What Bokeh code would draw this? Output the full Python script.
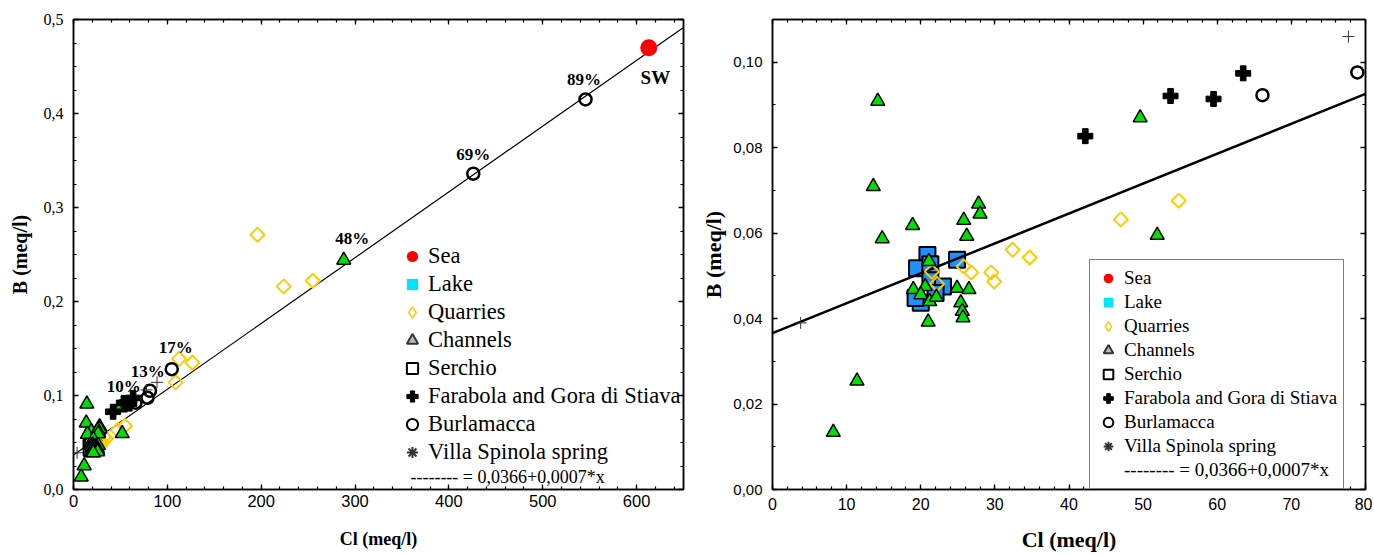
import numpy as np
from bokeh.plotting import figure
from bokeh.layouts import row
from bokeh.models import Range1d, LinearAxis, FixedTicker, Legend, LegendItem, Label
from bokeh.core.properties import value
from bokeh.embed import file_html
from bokeh.resources import INLINE

# ---------------- data (Cl meq/l, B meq/l) ----------------
sea_cl = [613.0]
sea_b = [0.470]

lake_cl = []
lake_b = []

quarry_cl = [21.5, 22.2, 25.8, 26.8, 29.5, 29.9, 32.4, 34.7, 47.0, 54.8, 109.0, 112.5, 126.7, 196.0, 224.0, 255.0]
quarry_b = [0.0510, 0.0481, 0.0522, 0.0508, 0.0508, 0.0487, 0.0561, 0.0543, 0.0632, 0.0676, 0.114, 0.139, 0.135, 0.271, 0.216, 0.222]

channel_cl = [14.2, 13.6, 18.9, 14.8, 11.4, 8.2, 49.6, 51.9, 27.8, 28.0, 25.8, 26.2, 21.1, 19.0, 20.6,
              20.0, 21.2, 22.1, 24.9, 26.5, 25.4, 25.6, 25.7, 21.0, 288.0]
channel_b = [0.0909, 0.0709, 0.0618, 0.0587, 0.0254, 0.0134, 0.0870, 0.0595, 0.0668, 0.0645, 0.0630, 0.0593, 0.0534, 0.0468, 0.0475,
             0.0456, 0.0440, 0.0450, 0.0471, 0.0468, 0.0437, 0.0417, 0.0402, 0.0392, 0.244]

serchio_cl = [20.9, 24.9, 19.5, 21.3, 23.0, 20.0, 19.3, 21.3, 22.0]
serchio_b = [0.0549, 0.0538, 0.0518, 0.0495, 0.0475, 0.0437, 0.0448, 0.0527, 0.0460]

farabola_cl = [42.2, 53.7, 59.5, 63.5]
farabola_b = [0.0827, 0.0921, 0.0914, 0.0974]

burlamacca_cl = [66.1, 78.9, 81.5, 104.7, 426.0, 545.6]
burlamacca_b = [0.0923, 0.0976, 0.105, 0.128, 0.336, 0.415]

villa_cl = [3.8, 77.7, 89.0]
villa_b = [0.039, 0.106, 0.114]

reg_intercept = 0.0366
reg_slope = 0.0007

pct_labels = ["89%", "69%", "48%", "17%", "13%", "10%"]
pct_cl = [544.0, 426.0, 297.0, 109.0, 79.0, 53.6]
pct_b = [0.436, 0.356, 0.267, 0.1515, 0.126, 0.110]

sw_label = ["SW"]
sw_cl = [620.0]
sw_b = [0.4386]

left_x_ticks = [0, 100, 200, 300, 400, 500, 600]
left_x_labels = ["0", "100", "200", "300", "400", "500", "600"]
left_y_ticks = [0.0, 0.1, 0.2, 0.3, 0.4, 0.5]
left_y_labels = ["0,0", "0,1", "0,2", "0,3", "0,4", "0,5"]

right_x_ticks = [0, 10, 20, 30, 40, 50, 60, 70, 80]
right_x_labels = ["0", "10", "20", "30", "40", "50", "60", "70", "80"]
right_y_ticks = [0.0, 0.02, 0.04, 0.06, 0.08, 0.10]
right_y_labels = ["0,00", "0,02", "0,04", "0,06", "0,08", "0,10"]

legend_names = ["Sea", "Lake", "Quarries", "Channels", "Serchio",
                "Farabola and Gora di Stiava", "Burlamacca", "Villa Spinola spring"]

formula_text = "-------- = " + str(reg_intercept).replace(".", ",") + "+" + str(reg_slope).replace(".", ",") + "*x"

# ---------------- styling ----------------
SERIF = "Liberation Serif"
SANS = "Liberation Sans"
NARROW = "'Liberation Sans Narrow', 'Liberation Sans'"
SEA_C = "#ff0000"
LAKE_C = "#00e5ff"
QUARRY_C = "#ffcc00"
CHANNEL_C = "#00e000"
SERCHIO_C = "#1e90ff"


def style_axis(ax, ticks, labels, minor, font, size, show):
    ax.ticker = FixedTicker(ticks=ticks, minor_ticks=minor)
    ax.major_label_overrides = {float(t): l for t, l in zip(ticks, labels)}
    ax.major_tick_in = 5
    ax.major_tick_out = 0
    ax.minor_tick_in = 3
    ax.minor_tick_out = 0
    ax.axis_line_width = 1.5
    ax.major_tick_line_width = 1.3
    ax.minor_tick_line_width = 1.2
    ax.axis_line_color = "black"
    ax.major_tick_line_color = "black"
    ax.minor_tick_line_color = "black"
    if show:
        ax.major_label_text_font = font
        ax.major_label_text_font_size = size
        ax.major_label_text_color = "black"
    else:
        ax.major_label_text_font_size = "0px"
        ax.major_label_text_color = None
        ax.major_label_standoff = 0
        ax.axis_label = None


def make_fig(width, height, mb, xr, yr, xt, xl, xminor, yt, yl, yminor,
             xfont, xsize, yfont, ysize, lab_size_x, lab_size_y, xstand, ystand, xlab_stand, ylab_stand):
    p = figure(width=width, height=height, x_range=Range1d(*xr), y_range=Range1d(*yr),
               output_backend="svg", toolbar_location=None,
               min_border_left=mb[0], min_border_right=mb[1], min_border_top=mb[2], min_border_bottom=mb[3],
               outline_line_color="black", outline_line_width=1.5,
               background_fill_color="white", border_fill_color="white")
    p.grid.visible = False
    bottom = p.below[0]
    left = p.left[0]
    bottom.axis_label = "Cl (meq/l)"
    left.axis_label = "B (meq/l)"
    top = LinearAxis()
    rgt = LinearAxis()
    p.add_layout(top, "above")
    p.add_layout(rgt, "right")
    style_axis(bottom, xt, xl, xminor, xfont, xsize, True)
    style_axis(left, yt, yl, yminor, yfont, ysize, True)
    style_axis(top, xt, xl, xminor, xfont, xsize, False)
    style_axis(rgt, yt, yl, yminor, yfont, ysize, False)
    for ax, s, st, ls in ((bottom, lab_size_x, xstand, xlab_stand), (left, lab_size_y, ystand, ylab_stand)):
        ax.axis_label_text_font = SERIF
        ax.axis_label_text_font_style = "bold"
        ax.axis_label_text_font_size = s
        ax.axis_label_text_color = "black"
        ax.major_label_standoff = st
        ax.axis_label_standoff = ls
    return p


def draw_data(p, xmax, lw_line):
    p.scatter(serchio_cl, serchio_b, marker="square", size=16, fill_color=SERCHIO_C,
              line_color="black", line_width=2)
    lx = np.array([0.0, xmax])
    p.line(lx, reg_intercept + reg_slope * lx, line_color="black", line_width=lw_line)
    p.scatter(quarry_cl, quarry_b, marker="square", angle=np.pi / 4, size=10, fill_color=None,
              line_color=QUARRY_C, line_width=2)
    p.scatter(channel_cl, channel_b, marker="triangle", size=14, fill_color=CHANNEL_C,
              line_color="black", line_width=1.5)
    p.scatter(farabola_cl, farabola_b, marker="plus", size=15, fill_color="black", line_color="black")
    p.scatter(burlamacca_cl, burlamacca_b, marker="circle", size=12, fill_color=None,
              line_color="black", line_width=2.5)
    p.scatter(villa_cl, villa_b, marker="cross", size=12, line_color="#333333", line_width=1)
    p.scatter(sea_cl, sea_b, marker="circle", size=17, fill_color=SEA_C, line_color=None)
    p.scatter(lake_cl, lake_b, marker="square", size=9, fill_color=LAKE_C, line_color=None)


def add_legend(p, loc, g, font_size, padding, standoff, boxed, formula_row):
    specs = [
        dict(marker="circle", fill_color=SEA_C, line_color=None),
        dict(marker="square", fill_color=LAKE_C, line_color=None),
        dict(marker="diamond", fill_color=None, line_color=QUARRY_C, line_width=1.5),
        dict(marker="triangle", fill_color="#bbbbbb", line_color="#333333", line_width=2),
        dict(marker="square", fill_color=None, line_color="black", line_width=2),
        dict(marker="plus", fill_color="black", line_color="black"),
        dict(marker="circle", fill_color=None, line_color="black", line_width=2),
        dict(marker="asterisk", line_color="#333333", line_width=2),
    ]
    items = []
    for name, kw in zip(legend_names, specs):
        r = p.scatter(x=[np.nan], y=[np.nan], **kw)
        items.append(LegendItem(label=name, renderers=[r]))
    if formula_row:
        r = p.scatter(x=[np.nan], y=[np.nan], marker="circle", fill_alpha=0, line_alpha=0)
        items.append(LegendItem(label=formula_text, renderers=[r]))
    leg = Legend(items=items, location=loc, orientation="vertical",
                 glyph_width=g, glyph_height=g, label_height=g, label_standoff=standoff,
                 padding=padding, spacing=0, margin=0,
                 label_text_font=SERIF, label_text_font_size=font_size, label_text_color="black")
    if boxed:
        leg.border_line_color = "black"
        leg.border_line_width = 1.5
        leg.background_fill_color = "white"
        leg.background_fill_alpha = 1.0
    else:
        leg.border_line_alpha = 0
        leg.background_fill_alpha = 0
    p.add_layout(leg)


# ---------------- left figure ----------------
p1 = make_fig(696, 555, (73, 13, 19, 64), (0, 650), (0, 0.5),
              left_x_ticks, left_x_labels, list(np.arange(0, 650.1, 20)),
              left_y_ticks, left_y_labels, list(np.arange(0, 0.5001, 0.025)),
              NARROW, "16.5px", SERIF, "16px", "18px", "20px", 5, 10, 19, 10)
draw_data(p1, 650.0, 1.2)
p1.text(pct_cl, pct_b, text=pct_labels, text_font=value(SERIF), text_font_style="bold",
        text_font_size="17px", text_align="center", text_baseline="middle", text_color="black")
p1.text(sw_cl, sw_b, text=sw_label, text_font=value(SERIF), text_font_style="bold",
        text_font_size="19px", text_align="center", text_baseline="middle", text_color="black")
add_legend(p1, (320, 18), 28, "22.5px", 5, 2, False, False)
p1.add_layout(Label(x=359.0, y=0.0138, text=formula_text, text_font=SERIF, text_font_size="18px",
                    text_baseline="middle", text_align="left", text_color="black"))

# ---------------- right figure ----------------
p2 = make_fig(676, 555, (76, 7, 17, 66), (0, 80), (0, 0.11),
              right_x_ticks, right_x_labels, list(np.arange(0, 80.1, 2)),
              right_y_ticks, right_y_labels, list(np.arange(0, 0.1101, 0.01)),
              SANS, "16px", SANS, "15px", "22px", "22px", 8, 10, 14, 4)
draw_data(p2, 80.0, 2.5)
add_legend(p2, (317, 0), 24, "19px", 6, 4, True, True)

layout = row(p1, p2)
open("out.html", "w").write(file_html(layout, INLINE))
